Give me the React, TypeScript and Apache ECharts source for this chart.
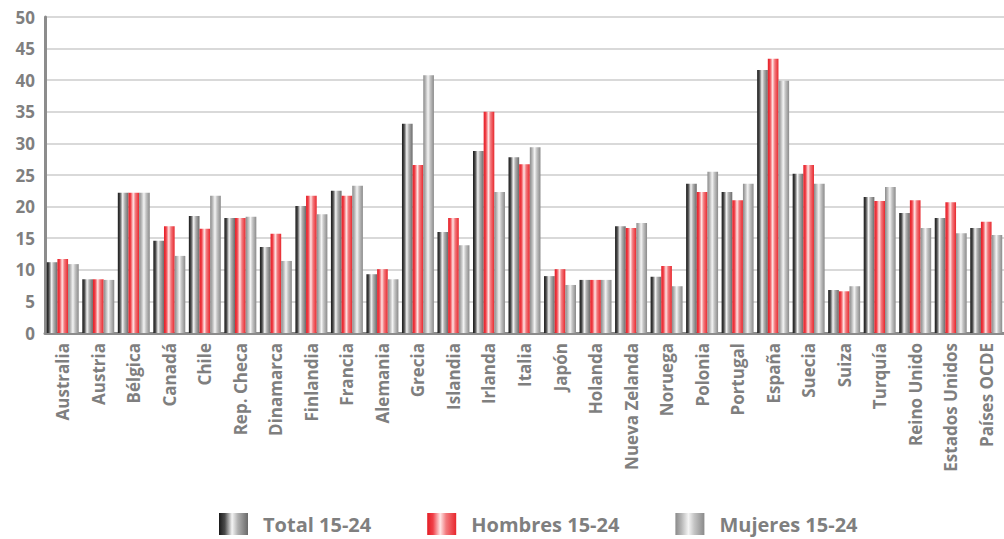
import React, { useEffect, useRef } from "react";
import * as echarts from "echarts";

const categories = [
  "Australia", "Austria", "Bélgica", "Canadá", "Chile", "Rep. Checa", "Dinamarca",
  "Finlandia", "Francia", "Alemania", "Grecia", "Islandia", "Irlanda", "Italia",
  "Japón", "Holanda", "Nueva Zelanda", "Noruega", "Polonia", "Portugal", "España",
  "Suecia", "Suiza", "Turquía", "Reino Unido", "Estados Unidos", "Países OCDE",
];

const total = [
  11.2, 8.5, 22.2, 14.6, 18.5, 18.2, 13.6, 20.1, 22.5, 9.3, 33.1, 16.0, 28.8, 27.8,
  9.0, 8.4, 16.9, 8.9, 23.6, 22.3, 41.6, 25.2, 6.8, 21.5, 19.0, 18.2, 16.6,
];
const hombres = [
  11.7, 8.5, 22.2, 16.9, 16.5, 18.2, 15.7, 21.7, 21.7, 10.1, 26.6, 18.2, 35.0, 26.7,
  10.1, 8.4, 16.6, 10.6, 22.3, 21.0, 43.4, 26.6, 6.6, 20.9, 21.0, 20.7, 17.6,
];
const mujeres = [
  10.9, 8.4, 22.2, 12.2, 21.7, 18.4, 11.4, 18.8, 23.3, 8.5, 40.8, 13.9, 22.3, 29.4,
  7.6, 8.4, 17.4, 7.4, 25.5, 23.6, 39.9, 23.6, 7.4, 23.1, 16.6, 15.8, 15.5,
];

const seriesNames = ["Total 15-24", "Hombres 15-24", "Mujeres 15-24"];
const yTicks = { min: 0, max: 50, interval: 5 };

const grad = (stops: [number, string][]) =>
  new echarts.graphic.LinearGradient(
    0, 0, 1, 0,
    stops.map(([offset, color]) => ({ offset, color }))
  );

const fills = [
  grad([[0, "#1a1a1a"], [0.2, "#4a4a4a"], [0.45, "#f4f4f4"], [0.65, "#b0b0b0"], [1, "#6a6a6a"]]),
  grad([[0, "#e41e26"], [0.2, "#f04048"], [0.45, "#ffe6e6"], [0.65, "#f27a7e"], [1, "#e8262c"]]),
  grad([[0, "#8a8a8a"], [0.2, "#b4b4b4"], [0.45, "#f4f4f4"], [0.65, "#c4c4c4"], [1, "#8a8a8a"]]),
];

export default function App() {
  const ref = useRef<HTMLDivElement>(null);
  useEffect(() => {
    if (!ref.current) return;
    const chart = echarts.init(ref.current, undefined, { renderer: "svg" });
    const labelColor = "#7f7f7f";
    const font = "'Open Sans', 'DejaVu Sans', sans-serif";
    const data = [total, hombres, mujeres];
    chart.setOption({
      animation: false,
      backgroundColor: "#ffffff",
      grid: { left: 45, right: -2, top: 17, bottom: 206, containLabel: false },
      legend: {
        top: 513,
        left: 219,
        padding: 0,
        itemWidth: 29,
        itemHeight: 22,
        itemGap: 56,
        icon: "rect",
        textStyle: {
          color: labelColor,
          fontSize: 20,
          fontWeight: "bold",
          fontFamily: font,
          padding: [0, 0, 0, 10],
        },
        data: seriesNames,
      },
      xAxis: {
        type: "category",
        data: categories,
        axisLine: { lineStyle: { color: "#8c8c8c", width: 3 } },
        axisTick: { show: false },
        axisLabel: {
          rotate: 90,
          interval: 0,
          margin: 10,
          color: labelColor,
          fontSize: 17,
          fontWeight: "bold",
          fontFamily: font,
        },
      },
      yAxis: {
        type: "value",
        min: yTicks.min,
        max: yTicks.max,
        interval: yTicks.interval,
        axisLine: { show: true, lineStyle: { color: "#8c8c8c", width: 3 } },
        axisTick: { show: false },
        splitLine: { lineStyle: { color: "#d9d9d9", width: 2 } },
        axisLabel: {
          color: labelColor,
          fontSize: 17,
          fontWeight: "bold",
          fontFamily: font,
          margin: 10,
        },
      },
      series: seriesNames.map((name, i) => ({
        name,
        type: "bar",
        data: data[i],
        barGap: "0%",
        barCategoryGap: "10%",
        itemStyle: { color: fills[i] },
      })),
    });
    return () => chart.dispose();
  }, []);
  return (
    <div
      ref={ref}
      style={{ position: "fixed", left: 0, top: 0, width: 1004, height: 539 }}
    />
  );
}
